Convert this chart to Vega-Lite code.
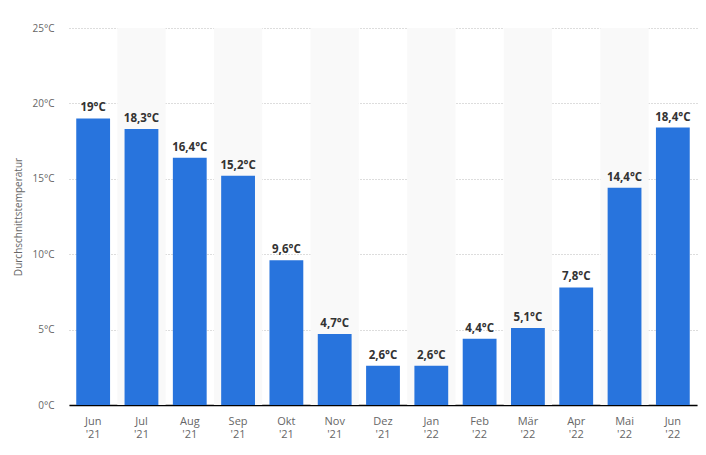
{
  "$schema": "https://vega.github.io/schema/vega-lite/v6.json",
  "width": 628,
  "height": 377,
  "autosize": {"type": "none"},
  "padding": {"left": 69, "top": 28, "right": 9, "bottom": 50},
  "background": "white",
  "config": {"view": {"stroke": null}, "font": "Open Sans"},
  "data": {
    "values": [
      {"month": "Jun '21", "temp": 19},
      {"month": "Jul '21", "temp": 18.3},
      {"month": "Aug '21", "temp": 16.4},
      {"month": "Sep '21", "temp": 15.2},
      {"month": "Okt '21", "temp": 9.6},
      {"month": "Nov '21", "temp": 4.7},
      {"month": "Dez '21", "temp": 2.6},
      {"month": "Jan '22", "temp": 2.6},
      {"month": "Feb '22", "temp": 4.4},
      {"month": "Mär '22", "temp": 5.1},
      {"month": "Apr '22", "temp": 7.8},
      {"month": "Mai '22", "temp": 14.4},
      {"month": "Jun '22", "temp": 18.4}
    ]
  },
  "encoding": {
    "x": {
      "field": "month",
      "type": "nominal",
      "scale": {
        "domain": ["Jun '21", "Jul '21", "Aug '21", "Sep '21", "Okt '21", "Nov '21", "Dez '21", "Jan '22", "Feb '22", "Mär '22", "Apr '22", "Mai '22", "Jun '22"],
        "paddingInner": 0, "paddingOuter": 0
      },
      "axis": {
        "title": null,
        "labelAngle": 0,
        "labelExpr": "split(datum.label, ' ')",
        "labelColor": "#666666",
        "labelFontSize": 11,
        "labelLineHeight": 13,
        "labelPadding": 10,
        "ticks": false,
        "domainColor": "#000000",
        "domainWidth": 1.5,
        "grid": false
      }
    }
  },
  "layer": [
    {
      "transform": [{"filter": {"field": "month", "oneOf": ["Jul '21", "Sep '21", "Nov '21", "Jan '22", "Mär '22", "Mai '22"]}}],
      "mark": {"type": "bar", "color": "#f9f9f9", "width": {"band": 1}},
      "encoding": {
        "y": {"datum": 25, "type": "quantitative"},
        "y2": {"datum": 0}
      }
    },
    {
      "mark": {"type": "bar", "color": "#2874DD", "width": {"band": 0.7}},
      "encoding": {
        "y": {
          "field": "temp",
          "type": "quantitative",
          "scale": {"domain": [0, 25], "nice": false},
          "axis": {
            "title": "Durchschnittstemperatur",
            "titleColor": "#666666",
            "titleFontSize": 10,
            "titleFontWeight": "normal",
            "titlePadding": 8,
            "values": [0, 5, 10, 15, 20, 25],
            "labelExpr": "datum.value + '°C'",
            "labelColor": "#666666",
            "labelFontSize": 10,
            "labelPadding": 15,
            "ticks": false,
            "domain": false,
            "grid": true,
            "gridColor": "#bbbbbb",
            "gridDash": [1, 2],
            "gridWidth": 1
          }
        }
      }
    },
    {
      "transform": [{"calculate": "replace(format(datum.temp, '~r'), '.', ',') + '°C'", "as": "lbl"}],
      "mark": {"type": "text", "dy": -10, "fontSize": 11.5, "fontWeight": "bold", "color": "#333333"},
      "encoding": {
        "y": {"field": "temp", "type": "quantitative"},
        "text": {"field": "lbl"}
      }
    }
  ]
}
